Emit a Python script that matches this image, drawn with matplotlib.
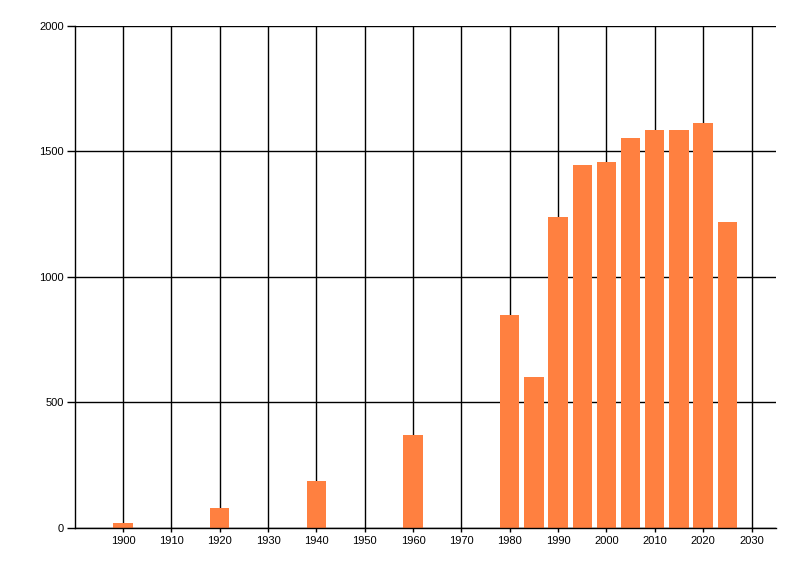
import matplotlib
matplotlib.use("Agg")
import matplotlib.pyplot as plt

plt.rcParams['font.family'] = ['Liberation Sans', 'DejaVu Sans']

years = [1900, 1920, 1940, 1960, 1980, 1985, 1990, 1995, 2000, 2005, 2010, 2015, 2020, 2025]
values = [20, 77, 188, 371, 847, 599, 1239, 1447, 1459, 1555, 1587, 1587, 1615, 1219]

x_ticks = list(range(1900, 2031, 10))
y_ticks = [0, 500, 1000, 1500, 2000]

fig = plt.figure(figsize=(8, 5.76), dpi=100)
ax = fig.add_axes([0.0934, 0.0839, 0.9696 - 0.0934, 0.9549 - 0.0839])

ax.bar(years, values, width=4, color='#FF8040', zorder=3)

ax.set_xlim(1890, 2035)
ax.set_ylim(0, 2000)
ax.set_xticks(x_ticks)
ax.set_yticks(y_ticks)

ax.grid(True, color='black', linewidth=1.0, zorder=1)
for side in ['top', 'right']:
    ax.spines[side].set_visible(False)
for side in ['left', 'bottom']:
    ax.spines[side].set_linewidth(1.0)
    ax.spines[side].set_zorder(4)

ax.tick_params(axis='both', labelsize=8, width=1.0, color='black')
ax.tick_params(axis='y', length=6, pad=2)
ax.tick_params(axis='x', length=3, pad=3)

fig.savefig('out.png', dpi=100)
